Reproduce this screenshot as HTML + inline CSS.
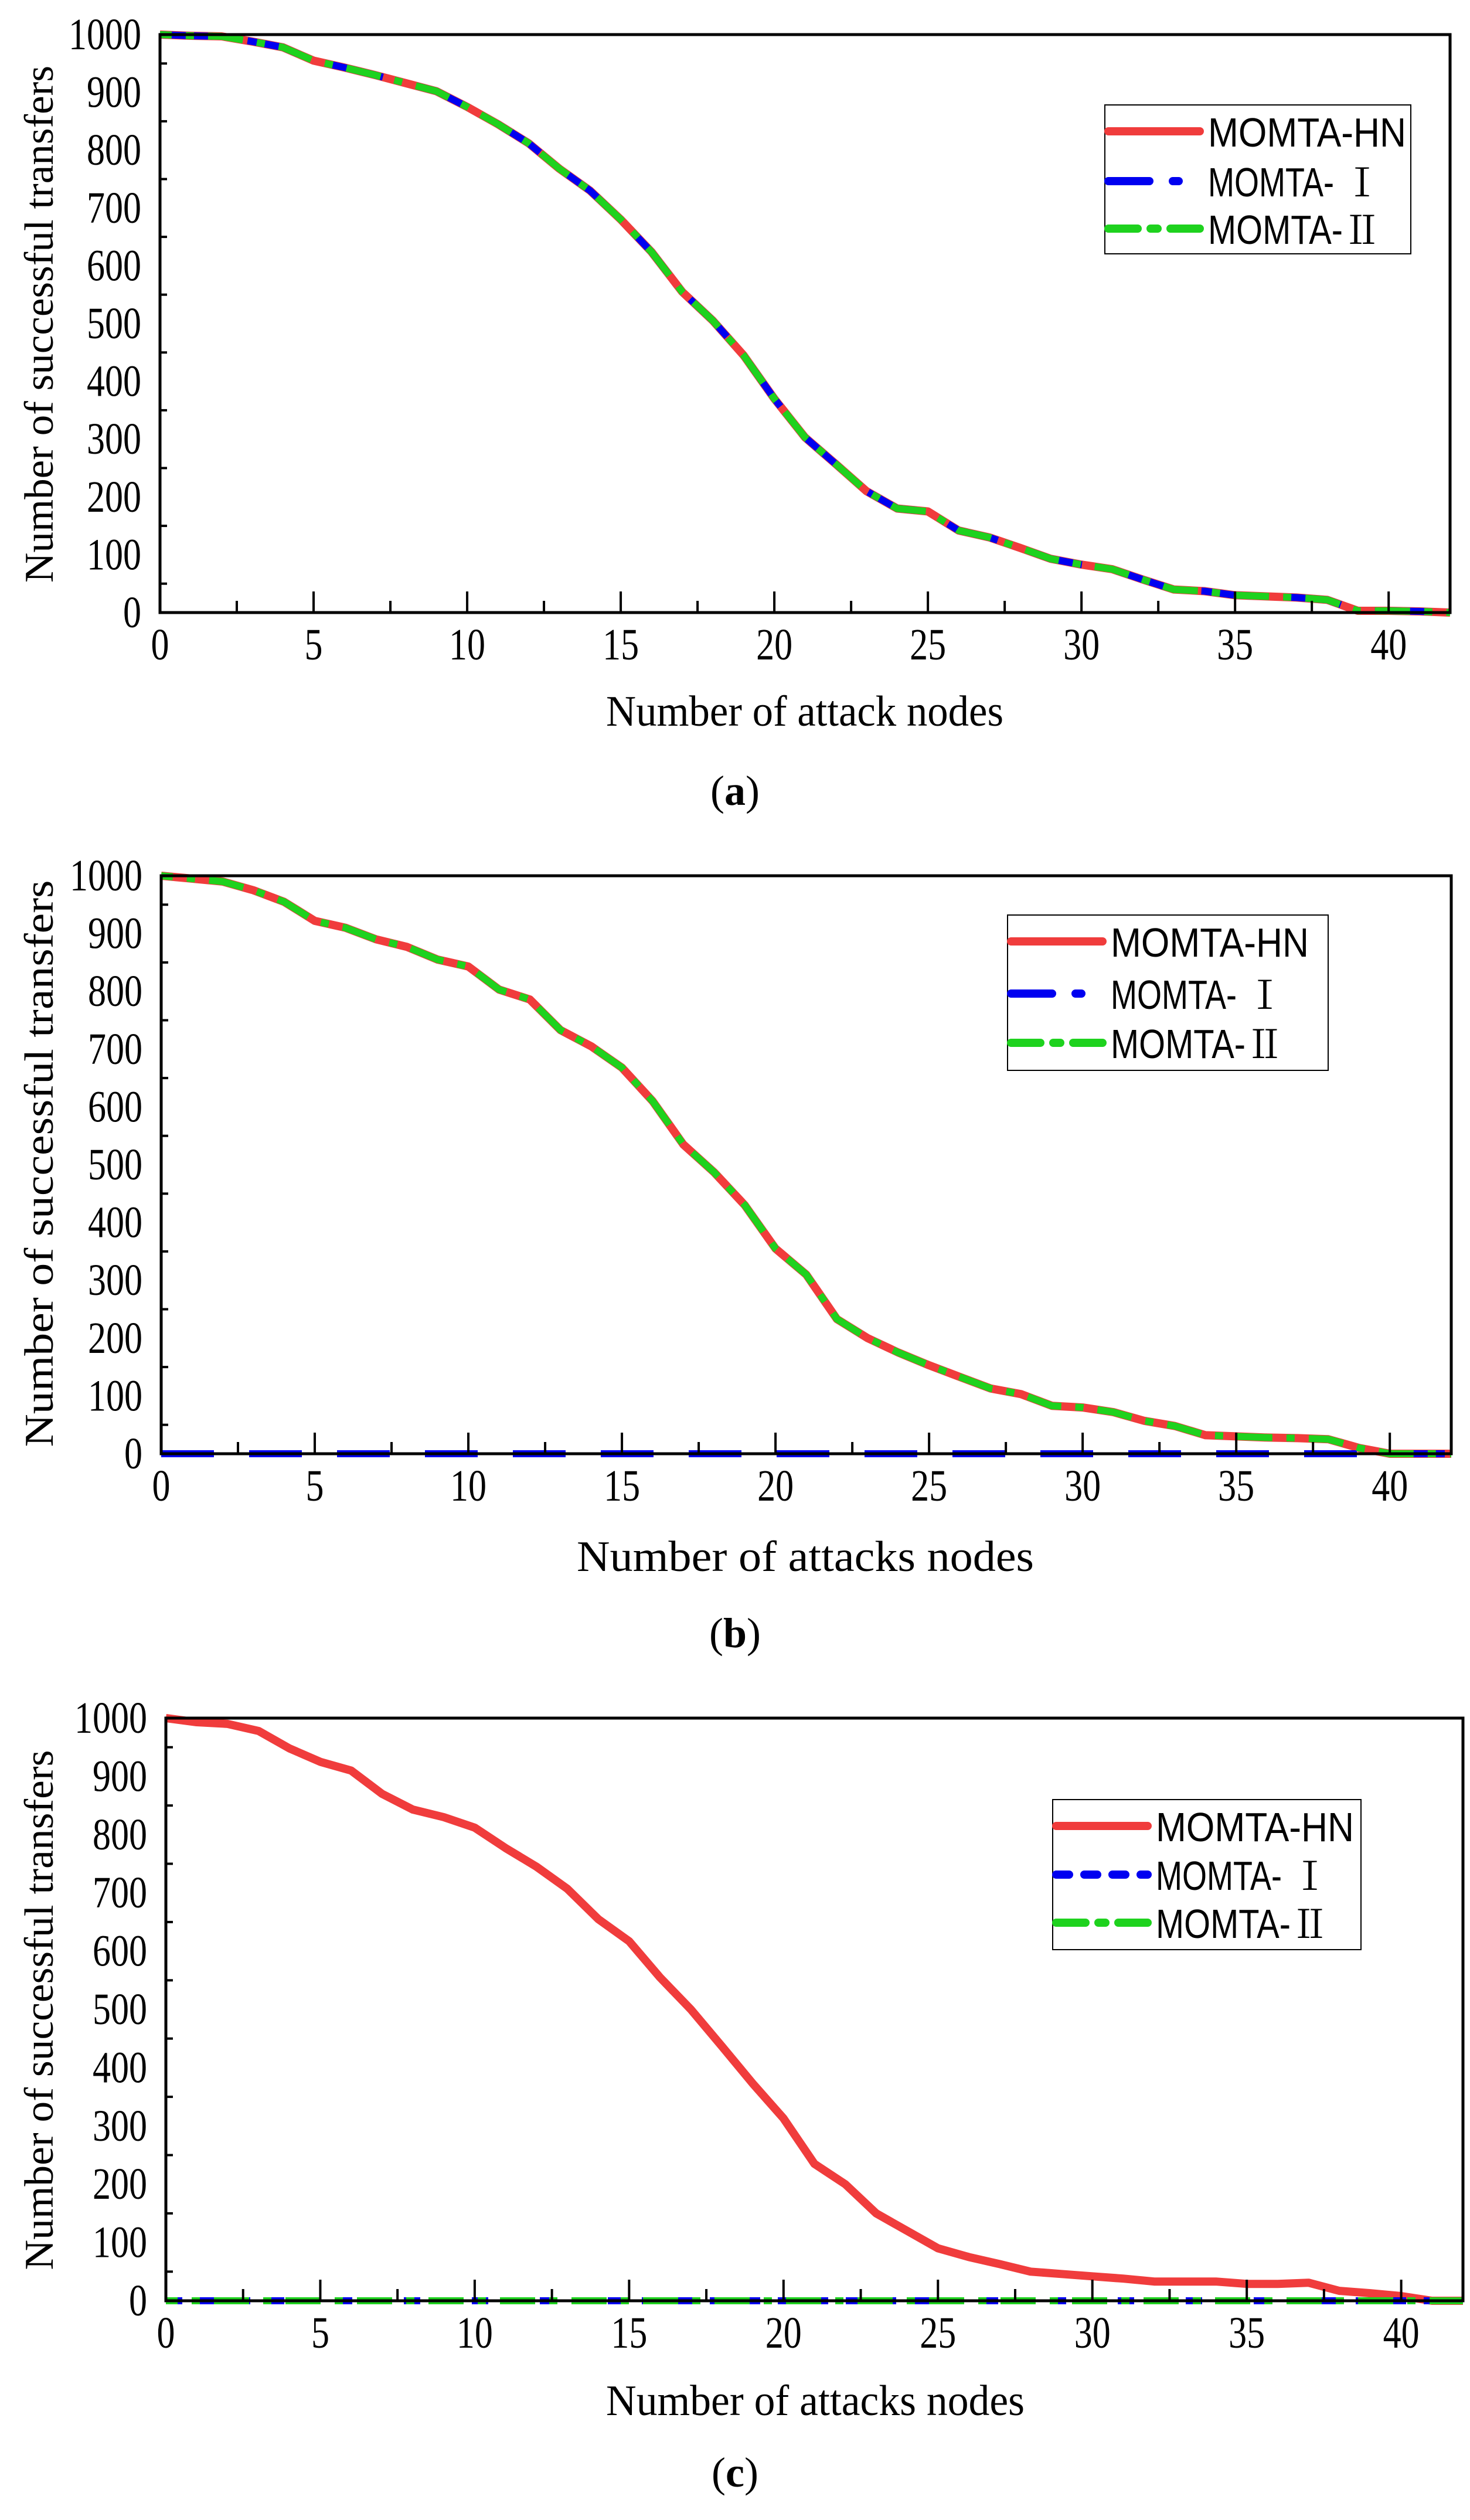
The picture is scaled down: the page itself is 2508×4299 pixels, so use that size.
<!DOCTYPE html>
<html><head><meta charset="utf-8"><style>
html,body{margin:0;padding:0;background:#fff;}
svg{display:block;}
</style></head><body>
<svg id="fig" width="2508" height="4299" viewBox="0 0 2508 4299" xmlns="http://www.w3.org/2000/svg"></svg>
<script>
const xCategories = [0,1,2,3,4,5,6,7,8,9,10,11,12,13,14,15,16,17,18,19,20,21,22,23,24,25,26,27,28,29,30,31,32,33,34,35,36,37,38,39,40,41,42];
const aSeriesHN = [1000,998,997,988,978,955,943,930,916,902,875,845,812,768,730,680,624,555,505,445,370,303,257,210,180,175,142,130,112,93,83,75,57,40,37,30,28,26,22,3,3,2,0];
const aSeriesI = aSeriesHN.slice();
const aSeriesII = aSeriesHN.slice();
const bSeriesHN = [1000,995,990,975,955,922,910,890,877,855,843,803,786,733,705,668,610,535,487,430,355,310,233,200,175,153,133,113,103,83,80,72,57,48,32,30,28,27,25,10,0,0,0];
const bSeriesI = [0,0,0,0,0,0,0,0,0,0,0,0,0,0,0,0,0,0,0,0,0,0,0,0,0,0,0,0,0,0,0,0,0,0,0,0,0,0,0,0,0,0,0];
const bSeriesII = bSeriesHN.slice();
const cSeriesHN = [1000,993,990,978,948,925,910,870,843,830,812,777,745,707,655,617,555,500,437,373,313,235,200,150,120,90,75,63,50,46,42,38,33,33,33,29,29,31,17,13,8,0,0];
const cSeriesI = [0,0,0,0,0,0,0,0,0,0,0,0,0,0,0,0,0,0,0,0,0,0,0,0,0,0,0,0,0,0,0,0,0,0,0,0,0,0,0,0,0,0,0];
const cSeriesII = cSeriesI.slice();
const xTickLabels = ["0","5","10","15","20","25","30","35","40"];
const yTickLabels = ["0","100","200","300","400","500","600","700","800","900","1000"];
const legendBase = ["MOMTA-HN","MOMTA- ","MOMTA-"];
const legendNumeral = ["","Ⅰ","Ⅱ"];

const NS="http://www.w3.org/2000/svg";
const svg=document.getElementById('fig');
function mk(tag,attrs,parent){const e=document.createElementNS(NS,tag);for(const k in attrs)e.setAttribute(k,attrs[k]);(parent||svg).appendChild(e);return e;}

const panels=[
 {id:'a',L:273,R:2474,T:59,B:1045,hn:aSeriesHN,s1:aSeriesI,s2:aSeriesII,
  leg:{x0:1885,x1:2407,y0:179,y1:433,ys:[224,309,390]},
  xt:"Number of attack nodes",xtx:1373,xty:1238,xtw:678,
  ytc:553,ytl:882,cap:"a",capy:1373},
 {id:'b',L:275,R:2476,T:1494,B:2480,hn:bSeriesHN,s1:bSeriesI,s2:bSeriesII,
  leg:{x0:1719,x1:2266,y0:1561,y1:1826,ys:[1606,1695,1779]},
  xt:"Number of attacks nodes",xtx:1374,xty:2680,xtw:780,
  ytc:1985,ytl:967,cap:"b",capy:2810},
 {id:'c',L:283,R:2496,T:2931,B:3925,hn:cSeriesHN,s1:cSeriesI,s2:cSeriesII,
  leg:{x0:1796,x1:2322,y0:3070,y1:3326,ys:[3115,3198,3280]},
  xt:"Number of attacks nodes",xtx:1391,xty:4120,xtw:714,
  ytc:3429,ytl:887,cap:"c",capy:4242}
];

panels.forEach(p=>{
  const g=mk('g',{});
  
  
  const xs=v=>p.L+(v/42)*(p.R-p.L);
  const ys=v=>p.B-(v/1000)*(p.B-p.T);
  const pts=arr=>arr.map((v,i)=>xs(xCategories[i]).toFixed(1)+','+ys(v).toFixed(1)).join(' ');
  const l0=mk('polyline',{points:pts(p.hn),fill:'none',stroke:'#f03c3c','stroke-width':14,'stroke-linejoin':'round'},g);
  
  
  const l1=mk('polyline',{points:pts(p.s1),fill:'none',stroke:'#0000f0','stroke-width':12,'stroke-dasharray':p.id==='c'?'28 30':'90 60','stroke-linejoin':'round'},g);
  
  
  const l2=mk('polyline',{points:pts(p.s2),fill:'none',stroke:'#1ed21e','stroke-width':12,'stroke-dasharray':'60 24 14 24','stroke-dashoffset':40,'stroke-linejoin':'round'},g);
  
  
  const fr=mk('rect',{x:p.L,y:p.T,width:p.R-p.L,height:p.B-p.T,fill:'none',stroke:'#000','stroke-width':5},g);
  
  
  for(let v=0;v<=42;v+=2.5){
    const major=(v%5===0);
    mk('line',{x1:xs(v),x2:xs(v),y1:p.B,y2:p.B-(major?36:20),stroke:'#000','stroke-width':4},g);
  }
  xTickLabels.forEach(s=>{
    const t=mk('text',{x:xs(+s),y:p.B+80,'text-anchor':'middle','font-family':'Liberation Serif, serif','font-size':76,textLength:31*s.length,lengthAdjust:'spacingAndGlyphs'},g);
    t.textContent=s;
    
    
  });
  for(let v=0;v<=1000;v+=50){
    const major=(v%100===0);
    mk('line',{x1:p.L,x2:p.L+(major?0:12),y1:ys(v),y2:ys(v),stroke:'#000','stroke-width':4},g);
  }
  yTickLabels.forEach(s=>{
    const t=mk('text',{x:p.L-32,y:ys(+s)+25,'text-anchor':'end','font-family':'Liberation Serif, serif','font-size':76,textLength:31*s.length,lengthAdjust:'spacingAndGlyphs'},g);
    t.textContent=s;
    
    
  });
  const xt=mk('text',{x:p.xtx,y:p.xty,'text-anchor':'middle','font-family':'Liberation Serif, serif','font-size':74,textLength:p.xtw,lengthAdjust:'spacingAndGlyphs'},g);
  xt.textContent=p.xt;
  
  
  const yt=mk('text',{x:0,y:0,transform:`translate(${90},${p.ytc}) rotate(-90)`,'text-anchor':'middle','font-family':'Liberation Serif, serif','font-size':70,textLength:p.ytl,lengthAdjust:'spacingAndGlyphs'},g);
  yt.textContent="Number of successful transfers";
  
  
  const lg=mk('g',{},g);
  
  
  mk('rect',{x:p.leg.x0,y:p.leg.y0,width:p.leg.x1-p.leg.x0,height:p.leg.y1-p.leg.y0,fill:'#fff',stroke:'#000','stroke-width':2},lg);
  const sw=[{c:'#f03c3c',d:'none'},{c:'#0000f0',d:p.id==='c'?'22 26':'70 40 10 40'},{c:'#1ed21e',d:'50 22 12 22'}];
  p.leg.ys.forEach((yy,i)=>{
    const ln=mk('line',{x1:p.leg.x0+6,x2:p.leg.x0+162,y1:yy,y2:yy,stroke:sw[i].c,'stroke-width':14,'stroke-dasharray':sw[i].d,'stroke-linecap':'round'},lg);
    
    
    const t=mk('text',{x:p.leg.x0+176,y:yy+26,'font-family':'Liberation Sans, sans-serif','font-size':70},lg);
    
    
    const a=document.createElementNS(NS,'tspan');
    a.setAttribute('textLength', i===0?338:230);
    a.setAttribute('lengthAdjust','spacingAndGlyphs');
    a.textContent=legendBase[i];
    t.appendChild(a);
    if(legendNumeral[i]){
      const b=document.createElementNS(NS,'tspan');
      b.setAttribute('font-family','Noto Serif CJK SC, Noto Sans CJK SC, serif');
      b.setAttribute('font-size','66');
      b.textContent=legendNumeral[i];
      t.appendChild(b);
    }
  });
  const cp=mk('text',{x:1254,y:p.capy,'text-anchor':'middle','font-family':'Liberation Serif, serif','font-size':72},g);
  
  
  const t1=document.createElementNS(NS,'tspan');t1.textContent='(';cp.appendChild(t1);
  const t2=document.createElementNS(NS,'tspan');t2.setAttribute('font-weight','bold');t2.textContent=p.cap;cp.appendChild(t2);
  const t3=document.createElementNS(NS,'tspan');t3.textContent=')';cp.appendChild(t3);
});
</script>
</body></html>
